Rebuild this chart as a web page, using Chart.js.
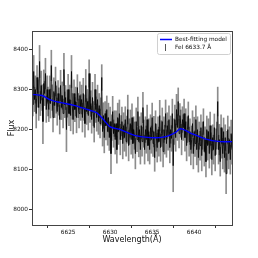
<!DOCTYPE html>
<html>
<head>
<meta charset="utf-8">
<style>
  html, body { margin: 0; padding: 0; background: #fff; }
  #wrap { width: 258px; height: 258px; }
</style>
<script src="https://cdn.jsdelivr.net/npm/chart.js@4.4.0/dist/chart.umd.min.js"></script>
</head>
<body>
<div id="wrap"><canvas id="c" width="258" height="258"></canvas></div>
<script>
// ---- data ----
const WAVE_START = 6620.7;   // Å, first pixel of the spectrum
const WAVE_STEP = 0.1;       // Å per pixel

const flux = [
  8310, 8262, 8345, 8275, 8300, 8240, 8330, 8290, 8255, 8370,
  8265, 8310, 8280, 8220, 8315, 8290, 8340, 8250, 8300, 8270,
  8250, 8300, 8265, 8360, 8280, 8230, 8295, 8260, 8320, 8275,
  8245, 8290, 8270, 8225, 8310, 8255, 8285, 8240, 8350, 8262,
  8280, 8200, 8265, 8300, 8240, 8275, 8235, 8345, 8258, 8225,
  8290, 8250, 8270, 8230, 8305, 8260, 8240, 8285, 8255, 8275,
  8230, 8290, 8255, 8215, 8310, 8245, 8270, 8235, 8340, 8250,
  8265, 8225, 8280, 8240, 8205, 8300, 8250, 8230, 8275, 8220,
  8260, 8215, 8245, 8330, 8195, 8235, 8180, 8240, 8210, 8250,
  8195, 8230, 8180, 8220, 8140, 8205, 8245, 8190, 8215, 8175,
  8215, 8150, 8230, 8195, 8240, 8175, 8205, 8220, 8165, 8210,
  8180, 8225, 8170, 8200, 8250, 8160, 8195, 8215, 8175, 8230,
  8165, 8200, 8185, 8140, 8220, 8175, 8245, 8170, 8200, 8150,
  8210, 8170, 8255, 8190, 8150, 8200, 8175, 8225, 8160, 8195,
  8150, 8205, 8175, 8230, 8165, 8195, 8130, 8215, 8180, 8155,
  8200, 8170, 8235, 8155, 8190, 8220, 8145, 8200, 8175, 8240,
  8165, 8210, 8185, 8225, 8155, 8200, 8178, 8240, 8110, 8195,
  8225, 8180, 8250, 8205, 8270, 8190, 8235, 8215, 8175, 8225,
  8205, 8240, 8180, 8220, 8160, 8200, 8235, 8170, 8195, 8150,
  8175, 8215, 8140, 8195, 8165, 8225, 8150, 8200, 8130, 8185,
  8160, 8205, 8135, 8185, 8220, 8145, 8175, 8120, 8200, 8160,
  8195, 8140, 8210, 8160, 8125, 8180, 8150, 8205, 8135, 8170,
  8185, 8270, 8150, 8175, 8120, 8205, 8165, 8140, 8195, 8130,
  8180, 8090, 8160, 8200, 8140, 8175, 8125, 8190, 8150
];

const fluxErr = [
  32, 28, 40, 30, 34, 36, 30, 34, 32, 40,
  30, 36, 32, 55, 34, 30, 38, 32, 34, 36,
  30, 34, 36, 38, 32, 36, 34, 30, 36, 34,
  34, 32, 34, 36, 38, 30, 34, 36, 40, 32,
  30, 55, 34, 38, 30, 36, 38, 40, 32, 36,
  34, 30, 36, 38, 32, 30, 36, 34, 32, 36,
  36, 38, 32, 34, 40, 32, 30, 36, 34, 32,
  32, 34, 38, 30, 36, 38, 32, 34, 36, 32,
  30, 36, 34, 32, 36, 32, 38, 30, 36, 34,
  34, 36, 32, 36, 50, 32, 38, 34, 32, 36,
  32, 34, 36, 32, 34, 38, 30, 36, 38, 32,
  34, 32, 36, 34, 36, 38, 32, 34, 36, 34,
  36, 32, 34, 38, 34, 30, 36, 38, 32, 36,
  32, 36, 38, 34, 36, 32, 34, 36, 38, 32,
  36, 32, 34, 36, 32, 38, 34, 32, 34, 36,
  32, 36, 38, 34, 32, 34, 38, 32, 36, 34,
  34, 32, 36, 34, 38, 34, 32, 36, 65, 32,
  36, 34, 38, 32, 34, 36, 30, 34, 38, 32,
  32, 36, 34, 32, 38, 32, 34, 36, 32, 38,
  34, 32, 38, 36, 32, 34, 38, 32, 36, 34,
  36, 32, 38, 34, 32, 36, 32, 38, 34, 36,
  32, 36, 34, 32, 38, 32, 36, 34, 38, 32,
  34, 36, 36, 38, 36, 32, 36, 38, 34, 36,
  32, 50, 36, 34, 38, 32, 36, 34, 36
];

// best-fitting model, read at a few wavelengths
const modelWave = [6620.7, 6621.9, 6622.8, 6624.0, 6625.8, 6627.6, 6628.4, 6629.2, 6630.0,
                   6631.2, 6633.0, 6634.8, 6636.5, 6637.7, 6638.4, 6639.5, 6641.3, 6643.1, 6644.5];
const modelFlux = [8288, 8285, 8275, 8268, 8260, 8248, 8242, 8225, 8207,
                   8200, 8185, 8180, 8182, 8192, 8202, 8192, 8177, 8170, 8170];

const xTicks = [6625, 6630, 6635, 6640];
const yTicks = [8000, 8100, 8200, 8300, 8400];

const legendLabels = ['Best-fitting model', 'FeI 6633.7 Å'];

// ---- build datasets ----
const wave = flux.map((_, i) => +(WAVE_START + i * WAVE_STEP).toFixed(2));
const errBars = flux.map((f, i) => ({ x: wave[i], y: [f - fluxErr[i], f + fluxErr[i]] }));
const fluxPts = flux.map((f, i) => ({ x: wave[i], y: f }));
const modelPts = modelWave.map((w, i) => ({ x: w, y: modelFlux[i] }));

const FONT = 'DejaVu Sans';

// top/right spines
const frame = {
  id: 'frame',
  afterDraw(chart) {
    const { ctx, chartArea: a } = chart;
    ctx.save();
    ctx.strokeStyle = '#444';
    ctx.lineWidth = 1;
    ctx.strokeRect(a.left + 0.5, a.top + 0.5, a.right - a.left, a.bottom - a.top);
    ctx.restore();
  }
};

// matplotlib-like legend box inside plot
const mplLegend = {
  id: 'mplLegend',
  afterDraw(chart) {
    const { ctx, chartArea: a } = chart;
    const x0 = a.right - 75, y0 = a.top + 2, w = 73, h = 21;
    ctx.save();
    ctx.fillStyle = 'rgba(255,255,255,0.85)';
    ctx.strokeStyle = '#d0d0d0';
    ctx.lineWidth = 1;
    ctx.beginPath();
    ctx.roundRect(x0 + 0.5, y0 + 0.5, w, h, 2);
    ctx.fill();
    ctx.stroke();

    // model line sample
    ctx.strokeStyle = '#0000ff';
    ctx.lineWidth = 1.5;
    ctx.beginPath();
    ctx.moveTo(x0 + 3, y0 + 6.5);
    ctx.lineTo(x0 + 15, y0 + 6.5);
    ctx.stroke();

    // error bar sample
    ctx.strokeStyle = '#555';
    ctx.lineWidth = 1;
    ctx.beginPath();
    ctx.moveTo(x0 + 8.5, y0 + 11);
    ctx.lineTo(x0 + 8.5, y0 + 18);
    ctx.stroke();

    ctx.fillStyle = '#111';
    ctx.font = '5.8px "' + FONT + '"';
    ctx.textBaseline = 'middle';
    ctx.fillText(legendLabels[0], x0 + 18, y0 + 6.5);
    ctx.fillText(legendLabels[1], x0 + 18, y0 + 14.5);
    ctx.restore();
  }
};

new Chart(document.getElementById('c'), {
  type: 'bar',
  data: {
    datasets: [
      {
        type: 'line',
        data: modelPts,
        borderColor: '#0000ff',
        borderWidth: 1.4,
        pointRadius: 0,
        tension: 0.3,
        order: 0
      },
      {
        type: 'line',
        data: fluxPts,
        borderColor: '#000',
        borderWidth: 0.8,
        pointRadius: 0,
        tension: 0,
        order: 1
      },
      {
        type: 'bar',
        data: errBars,
        backgroundColor: 'rgba(0,0,0,0.45)',
        borderWidth: 0,
        barThickness: 1,
        order: 2
      }
    ]
  },
  plugins: [frame, mplLegend],
  options: {
    responsive: false,
    animation: false,
    layout: { padding: { top: 31, right: 26, left: 0, bottom: 0 } },
    plugins: {
      legend: { display: false },
      tooltip: { enabled: false }
    },
    scales: {
      x: {
        type: 'linear',
        min: 6620.7,
        max: 6644.5,
        offset: false,
        afterBuildTicks: s => { s.ticks = xTicks.map(v => ({ value: v })); },
        afterFit: s => { s.height = 33; },
        ticks: { font: { family: FONT, size: 5.8 }, color: '#111', padding: 1, maxRotation: 0, callback: v => String(v) },
        grid: { drawOnChartArea: false, tickLength: 3, color: '#333' },
        border: { color: '#444' },
        title: {
          display: true, text: 'Wavelength(Å)', color: '#111',
          font: { family: FONT, size: 8 }, padding: { top: 0, bottom: 13 }
        }
      },
      y: {
        min: 7962,
        max: 8446,
        afterBuildTicks: s => { s.ticks = yTicks.map(v => ({ value: v })); },
        afterFit: s => { s.width = 32; },
        ticks: { font: { family: FONT, size: 5.8 }, color: '#111', padding: 1, callback: v => String(v) },
        grid: { drawOnChartArea: false, tickLength: 3, color: '#333' },
        border: { color: '#444' },
        title: {
          display: true, text: 'Flux', color: '#111',
          font: { family: FONT, size: 8 }, padding: { top: 7, bottom: 0 }
        }
      }
    }
  }
});
</script>
</body>
</html>
